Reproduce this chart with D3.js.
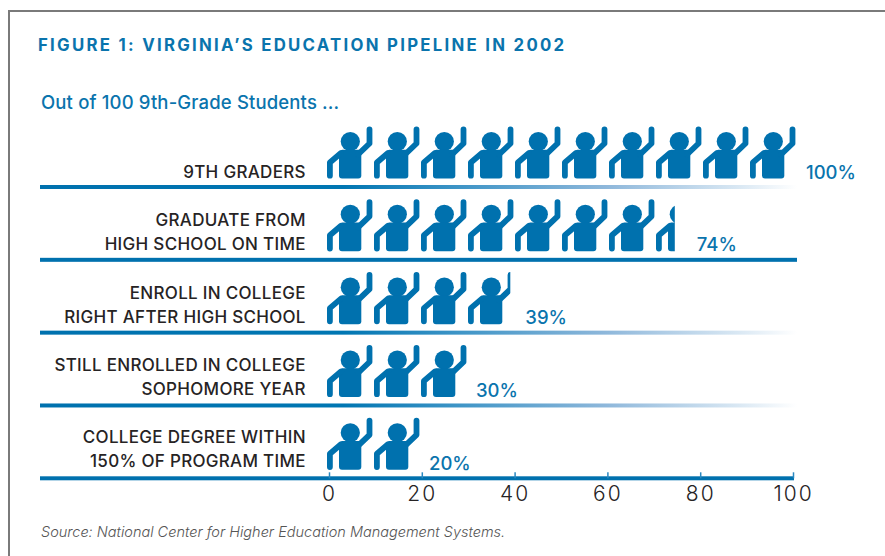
<!DOCTYPE html>
<html>
<head>
<meta charset="utf-8">
<script src="https://cdn.jsdelivr.net/npm/d3@7"></script>
<style>
  body { margin: 0; background: #fff; }
  svg { display: block; font-family: Inter, "Open Sans", sans-serif; }
</style>
</head>
<body>
<div id="chart"></div>
<script>
// chart data
const categories = ["9TH GRADERS", "GRADUATE FROM|HIGH SCHOOL ON TIME", "ENROLL IN COLLEGE|RIGHT AFTER HIGH SCHOOL",
  "STILL ENROLLED IN COLLEGE|SOPHOMORE YEAR", "COLLEGE DEGREE WITHIN|150% OF PROGRAM TIME"];
const values = [100, 74, 39, 30, 20];
const axisTicks = [0, 20, 40, 60, 80, 100];
const unitsPerFigure = 10;

// layout tweaks per row, kept apart from the data
const fadedRule = [true, false, true, true, false];
const labelGap = [9, 22, 15, 8, 8];
const textLift = [9, 9.5, 10, 10, 11.5];

const width = 885, height = 556;
const blue = "#0071ae", dark = "#262324";

const svg = d3.select("#chart").append("svg").attr("width", width).attr("height", height);
const defs = svg.append("defs");

// frame is cut by the page edge on the right and bottom
svg.append("path").attr("d", "M9,556V11H885").attr("fill", "none").attr("stroke", "#7a7a7a").attr("stroke-width", 2);

// axis and the pictogram use slightly different widths in the original
const x = d3.scaleLinear().domain([0, 100]).range([329, 793]);
const pictoX = d3.scaleLinear().domain([0, 100]).range([327, 797]);
const y = d3.scalePoint().domain(categories).range([187, 478.3]);

// fading rule
const grad = defs.append("linearGradient").attr("id", "fade")
  .attr("gradientUnits", "userSpaceOnUse").attr("x1", 40).attr("x2", 797).attr("y1", 0).attr("y2", 0);
[[0, "#0071ae"], [0.4, "#0076b2"], [0.55, "#3d94c6"], [0.75, "#8fb8db"], [0.92, "#d8e7f3"], [1, "#ffffff"]].forEach(s => {
  grad.append("stop").attr("offset", s[0]).attr("stop-color", s[1]);
});

// person glyph, 45 x 52 px
const person = defs.append("g").attr("id", "person");
person.append("circle").attr("cx", 23.3).attr("cy", 15).attr("r", 9.6).attr("fill", blue);
person.append("path").attr("d", "M12,26 L15,23.2 H32 L34.3,26 V49 Q34.3,52 31.3,52 H15 Q12,52 12,49 Z").attr("fill", blue);
person.append("path").attr("d", "M42.5,2.8 V17 L31,28").attr("fill", "none").attr("stroke", blue)
  .attr("stroke-width", 5.8).attr("stroke-linecap", "round").attr("stroke-linejoin", "round");
person.append("path").attr("d", "M2.9,49.2 V36 L14,26.5").attr("fill", "none").attr("stroke", blue)
  .attr("stroke-width", 5.8).attr("stroke-linecap", "round").attr("stroke-linejoin", "round");

// title block
svg.append("text").attr("x", 38).attr("y", 51).attr("fill", "#0a74ad")
  .attr("font-size", 16.8).attr("font-weight", 700).attr("letter-spacing", 2.27)
  .text("FIGURE 1: VIRGINIA\u2019S EDUCATION PIPELINE IN 2002");
svg.append("text").attr("x", 41).attr("y", 108.7).attr("fill", "#0a74ad")
  .attr("font-size", 18.5).attr("font-weight", 500).attr("letter-spacing", 0.15)
  .text("Out of 100 9th-Grade Students ...");

const rows = svg.selectAll("g.row").data(categories).enter().append("g").attr("class", "row");

// rules
rows.append("rect").attr("x", 40).attr("y", d => y(d) - 2)
  .attr("width", (d, i) => i === categories.length - 1 ? x(100) + 1 - 40 : 757)
  .attr("height", 4)
  .attr("fill", (d, i) => fadedRule[i] ? "url(#fade)" : blue);

// row labels, right aligned, split on |
rows.each(function (d, i) {
  const lines = d.split("|");
  d3.select(this).selectAll("text.cat").data(lines).enter().append("text").attr("class", "cat")
    .attr("x", 305.8).attr("text-anchor", "end").attr("fill", dark)
    .attr("font-size", 17).attr("font-weight", 500).attr("letter-spacing", 0.3)
    .attr("y", (l, j) => y(d) - textLift[i] - (lines.length - 1 - j) * 24)
    .text(l => l);
});

// pictograms, the last figure is cut at the value
rows.each(function (d, i) {
  const v = values[i], base = y(d) - 8.5;
  defs.append("clipPath").attr("id", "clip" + i).append("rect")
    .attr("x", pictoX(0) - 1).attr("y", base - 54)
    .attr("width", pictoX(v) - pictoX(0) + 1).attr("height", 56);
  d3.select(this).append("g").attr("clip-path", `url(#clip${i})`)
    .selectAll("use").data(d3.range(Math.ceil(v / unitsPerFigure))).enter().append("use")
    .attr("href", "#person")
    .attr("x", n => pictoX(n * unitsPerFigure))
    .attr("y", base - 52);
  d3.select(this).append("text")
    .attr("x", pictoX(v) + labelGap[i]).attr("y", base).attr("fill", "#0a74ad")
    .attr("font-size", 18.5).attr("font-weight", 500)
    .text(v + "%");
});

// axis
const axis = svg.append("g").attr("transform", `translate(0,${y.range()[1]})`)
  .call(d3.axisBottom(x).tickValues(axisTicks).tickSizeInner(-6).tickSizeOuter(0).tickPadding(8));
axis.select(".domain").remove();
axis.selectAll(".tick line").attr("stroke", "#2a88c0").attr("stroke-width", 1.5);
axis.selectAll(".tick text").attr("fill", dark).attr("font-size", 21).attr("font-weight", 300)
  .attr("font-family", "Inter, sans-serif").attr("letter-spacing", 2);

// source
svg.append("text").attr("x", 41).attr("y", 536.7).attr("fill", "#555")
  .attr("font-size", 14.5).attr("font-style", "italic").attr("font-weight", 300)
  .text("Source: National Center for Higher Education Management Systems.");
</script>
</body>
</html>
